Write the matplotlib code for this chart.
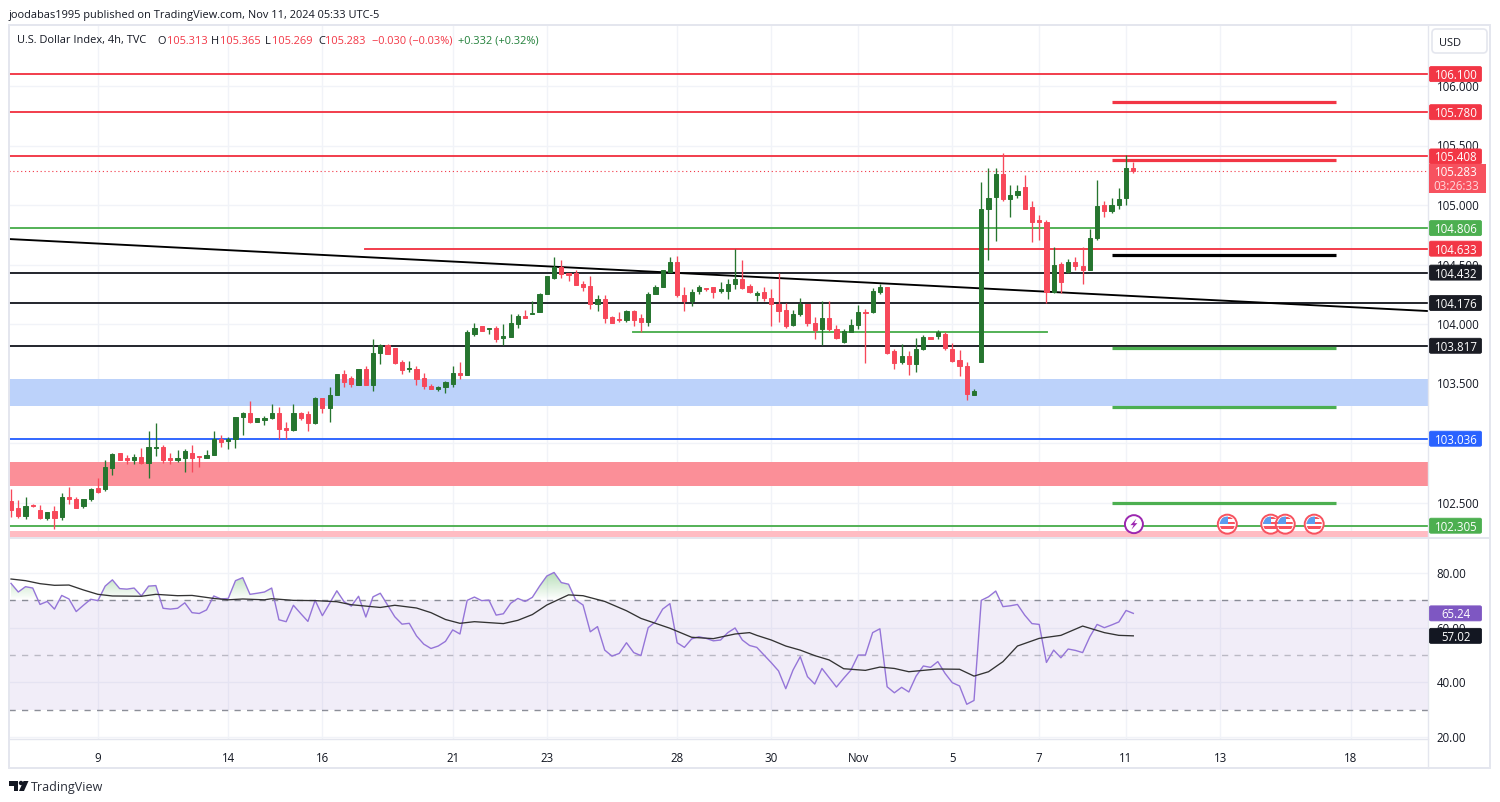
import numpy as np
import matplotlib
matplotlib.use("Agg")
import matplotlib.pyplot as plt
from matplotlib.patches import Rectangle, Circle, FancyBboxPatch, Polygon, Wedge
from matplotlib.path import Path
from matplotlib.colors import to_rgb

plt.rcParams['font.family'] = ['Open Sans', 'DejaVu Sans']

opens = [102.51,102.45,102.39,102.48,102.44,102.37,102.43,102.38,102.55,102.53,
102.47,102.53,102.62,102.61,102.79,102.92,102.87,102.86,102.88,102.83,
102.96,102.97,102.87,102.86,102.87,102.92,102.89,102.87,102.90,103.03,
103.02,103.03,103.22,103.25,103.18,103.19,103.21,103.25,103.13,103.11,
103.25,103.24,103.17,103.38,103.29,103.40,103.58,103.55,103.49,103.62,
103.49,103.76,103.82,103.80,103.68,103.62,103.62,103.55,103.48,103.45,
103.47,103.50,103.59,103.57,103.92,103.98,103.96,103.97,103.88,103.89,
104.00,104.07,104.08,104.10,104.25,104.39,104.48,104.43,104.43,104.34,
104.32,104.17,104.21,104.06,104.04,104.03,104.11,104.05,104.02,104.25,
104.31,104.44,104.52,104.24,104.19,104.28,104.30,104.31,104.28,104.28,
104.34,104.38,104.32,104.24,104.27,104.22,104.17,104.12,103.99,104.08,
104.17,104.01,103.96,104.05,103.96,103.85,103.93,103.99,104.10,104.10,
104.27,104.31,103.77,103.68,103.73,103.66,103.79,103.89,103.90,103.92,
103.79,103.70,103.65,103.40,103.68,104.97,105.07,105.26,105.05,105.08,
105.15,104.98,104.87,104.86,104.27,104.50,104.44,104.52,104.49,104.45,
104.72,105.00,104.95,105.00,105.06,105.313]
closes = [102.44,102.39,102.47,102.47,102.37,102.42,102.37,102.55,102.53,102.45,
102.53,102.61,102.59,102.80,102.91,102.86,102.86,102.88,102.83,102.97,
102.97,102.86,102.86,102.87,102.93,102.87,102.88,102.90,103.03,103.01,
103.03,103.22,103.25,103.18,103.21,103.21,103.25,103.12,103.11,103.25,
103.21,103.17,103.38,103.29,103.40,103.58,103.51,103.50,103.62,103.49,
103.76,103.82,103.75,103.67,103.61,103.63,103.54,103.48,103.45,103.47,
103.51,103.59,103.57,103.93,103.97,103.94,103.97,103.87,103.90,104.01,
104.07,104.05,104.09,104.25,104.40,104.48,104.42,104.41,104.33,104.31,
104.17,104.21,104.05,104.01,104.03,104.11,104.03,104.02,104.25,104.31,
104.45,104.52,104.24,104.19,104.27,104.31,104.29,104.27,104.29,104.34,
104.38,104.30,104.27,104.26,104.22,104.17,104.11,103.98,104.08,104.17,
104.01,103.95,104.05,103.96,103.88,103.94,103.99,104.10,104.09,104.28,
104.31,103.76,103.67,103.73,103.66,103.79,103.89,103.87,103.93,103.80,
103.69,103.65,103.41,103.44,104.97,105.06,105.26,105.05,105.08,105.12,
104.97,104.86,104.86,104.27,104.50,104.35,104.52,104.49,104.45,104.72,
104.99,104.95,105.00,105.05,105.31,105.283]
highs = [102.61,102.52,102.55,102.49,102.48,102.42,102.47,102.58,102.63,102.55,
102.53,102.62,102.71,102.86,102.92,102.92,102.90,102.91,102.96,103.10,
103.17,102.98,102.92,102.94,102.95,102.98,102.89,102.94,103.10,103.07,
103.05,103.22,103.26,103.35,103.21,103.23,103.33,103.30,103.18,103.33,
103.26,103.27,103.39,103.38,103.47,103.58,103.61,103.56,103.62,103.65,
103.87,103.83,103.83,103.80,103.70,103.69,103.65,103.59,103.50,103.48,
103.52,103.65,103.68,103.95,104.01,103.98,103.97,103.98,104.00,104.08,
104.08,104.12,104.19,104.26,104.40,104.56,104.54,104.43,104.45,104.36,
104.40,104.24,104.24,104.07,104.10,104.12,104.12,104.08,104.27,104.33,
104.45,104.56,104.57,104.31,104.29,104.33,104.30,104.31,104.35,104.38,
104.63,104.54,104.34,104.28,104.31,104.29,104.43,104.18,104.12,104.22,
104.17,104.06,104.19,104.19,103.99,103.96,104.04,104.16,104.13,104.30,
104.34,104.31,103.79,103.83,103.77,103.88,103.91,103.89,103.95,103.93,
103.84,103.78,103.68,103.45,105.19,105.31,105.31,105.44,105.17,105.17,
105.25,105.03,104.92,104.87,104.65,104.52,104.55,104.56,104.65,104.80,
105.21,105.03,105.06,105.14,105.42,105.365]
lows = [102.38,102.37,102.36,102.46,102.36,102.35,102.28,102.35,102.49,102.45,
102.45,102.51,102.58,102.60,102.73,102.86,102.82,102.82,102.82,102.71,
102.89,102.83,102.82,102.84,102.76,102.76,102.80,102.87,102.90,102.97,
102.95,102.96,103.07,103.17,103.18,103.15,103.20,103.03,103.03,103.10,
103.19,103.10,103.16,103.25,103.18,103.40,103.47,103.47,103.49,103.49,
103.44,103.66,103.75,103.66,103.58,103.60,103.49,103.45,103.45,103.44,
103.42,103.47,103.54,103.57,103.90,103.94,103.92,103.85,103.82,103.89,
103.97,104.05,104.08,104.10,104.25,104.38,104.39,104.36,104.33,104.28,
104.13,104.11,104.01,104.01,104.02,104.02,103.98,103.93,103.98,104.25,
104.31,104.44,104.23,104.11,104.15,104.25,104.28,104.22,104.26,104.21,
104.29,104.29,104.26,104.19,104.19,103.98,104.02,103.97,103.98,104.07,
103.98,103.87,103.82,103.94,103.87,103.84,103.93,103.96,103.67,104.09,
104.25,103.75,103.62,103.66,103.57,103.60,103.78,103.87,103.87,103.78,
103.68,103.56,103.36,103.40,103.68,104.54,104.70,105.03,104.90,105.06,
104.97,104.69,104.71,104.18,104.26,104.26,104.43,104.45,104.34,104.45,
104.71,104.90,104.93,104.97,105.00,105.269]
rsi = [76.2,73.05,75.0,74.5,68.5,69.6,66.8,71.8,70.5,65.9,68.2,70.4,69.9,75.2,77.5,74.3,74.1,74.5,71.6,75.2,
75.4,67.1,66.8,67.1,69.1,65.5,65.2,66.5,71.6,70.5,70.7,77.2,78.3,72.2,72.6,73.05,74.5,62.9,62.2,68.2,
65.2,62.3,70.0,64.4,68.9,73.5,69.5,67.9,71.5,63.9,71.3,72.6,68.3,64.0,61.3,61.6,57.0,54.0,52.4,53.3,
55.0,59.2,57.7,70.0,71.2,69.9,70.1,64.6,65.1,68.9,70.7,69.6,71.1,75.2,78.9,80.2,76.5,75.9,70.1,68.3,
58.5,60.4,51.8,49.6,50.6,54.5,50.9,49.8,60.0,62.2,66.8,68.8,54.5,52.8,55.9,56.7,56.1,55.2,55.5,58.2,
59.9,55.5,53.5,52.8,50.0,47.2,44.2,37.7,44.5,49.4,42.1,39.4,45.1,41.7,38.3,41.5,44.5,50.0,50.0,58.2,
59.6,38.4,36.2,38.2,36.5,42.3,46.0,45.5,47.6,43.3,39.9,38.7,32.0,33.4,70.0,71.3,73.4,67.7,68.0,68.5,
64.6,61.5,61.2,47.3,51.8,49.0,52.2,51.7,50.9,56.7,61.2,60.0,61.0,62.1,66.3,65.24]
ma_idx = [1,3,5,7,9,11,13,15,19,21,24,26,29,31,33,36,37,40,43,46,48,52,54,57,59,61,63,65,69,71,73,75,78,80,83,86,88,91,92,95,98,101,103,104,106,108,110,112,114,116,119,121,123,125,129,132,134,136,138,140,143,146,149,152,154,156]
ma_vals = [77.8,77.2,76.1,75.5,75.6,73.8,72.2,71.6,71.5,72.2,71.7,71.8,70.7,70.2,70.5,70.2,70.6,70.0,69.9,69.5,68.4,67.4,68.2,67.2,65.5,63.0,61.6,62.2,61.5,62.7,64.8,68.3,72.0,71.7,69.6,66.2,63.4,60.7,59.8,56.5,56.0,57.7,58.2,57.2,55.5,53.3,51.8,49.8,48.2,45.0,44.4,45.6,45.1,43.9,44.9,44.8,42.3,43.9,47.6,53.3,56.1,57.2,60.6,58.2,57.2,57.02]

date_idx = [13,31,44,62,75,93,106,118,131,143,155,168,186]
date_labels = ['9','14','16','21','23','28','30','Nov','5','7','11','13','18']
price_ticks = [106.0,105.5,105.0,104.5,104.0,103.5,103.0,102.5]
price_tick_labels = ['106.000','105.500','105.000','104.500','104.000','103.500','','102.500']
rsi_ticks = [80,60,40,20]

full_lines = [(106.100,'red'),(105.780,'red'),(105.408,'red'),(104.806,'green'),(104.432,'black'),
              (104.176,'black'),(103.817,'black'),(103.036,'blue'),(102.305,'green')]
mid_red_level = 104.633
mid_red_start = 49.9
green_seg = (103.933, 86.9, 144.1)
trend_pts = ([0.72, 196.7], [104.714, 104.109])
short_start, short_end = 153.1, 184.0
short_lines = [(105.866,'red'),(105.378,'red'),(104.58,'blackk'),(103.795,'green'),(103.30,'green'),(102.50,'green')]
bands = [(103.311,103.538,'#bcd2fa'),(102.64,102.84,'#fb8f98'),(102.21,102.26,'#ffbcc3')]
last_price = 105.283
flag_idx = [169,175,177,181]
bolt_idx = 156.1
event_price = 102.318

COL = dict(red='#f23645', green='#4caf50', black='#1a1c24', blackk='#000000', blue='#2962ff')
UP, DN = '#26752f', '#f7485a'
GRID = '#f1f3f8'
TXT = '#131722'
W, H = 1500, 802
FS = 8.3
HS = 7.9

fig = plt.figure(figsize=(15, 8.02), dpi=100, facecolor='white')
def rect(x0, y0, x1, y1):
    return [x0/W, 1-y1/H, (x1-x0)/W, (y1-y0)/H]
def pr(y):
    return 105-(y-205)/119
def rv(y):
    return 80-(y-573)/2.735

XL = (0.72, 196.7)
ax = fig.add_axes(rect(9, 26, 1428, 537))
ax.set_xlim(*XL); ax.set_ylim(pr(537), pr(26))
axr = fig.add_axes(rect(9, 538, 1428, 739))
axr.set_xlim(*XL); axr.set_ylim(rv(739), rv(538))

for a in (ax, axr):
    for s in a.spines.values():
        s.set_visible(False)
    a.yaxis.tick_right()
    a.set_axisbelow(True)
    a.grid(True, color=GRID, lw=1.0)
ax.set_yticks(price_ticks, price_tick_labels)
ax.set_xticks(date_idx, [''] * len(date_idx))
ax.tick_params(length=0, labelsize=FS, labelcolor=TXT, pad=6.2)
axr.set_yticks(rsi_ticks, [f'{t:.2f}' for t in rsi_ticks])
axr.set_xticks(date_idx, date_labels)
axr.tick_params(axis='y', length=0, labelsize=FS, labelcolor=TXT, pad=6.2)
axr.tick_params(axis='x', length=0, labelsize=FS, labelcolor=TXT, pad=9)

# bands and levels
for lo, hi, c in bands:
    ax.axhspan(lo, hi, color=c, lw=0, zorder=1)
for lv, c in full_lines:
    ax.axhline(lv, color=COL[c], lw=1.35, zorder=2)
ax.plot([mid_red_start, XL[1]], [mid_red_level]*2, color=COL['red'], lw=1.35, zorder=2)
ax.plot(green_seg[1:], [green_seg[0]]*2, color=COL['green'], lw=1.35, zorder=2)
ax.plot(*trend_pts, color='black', lw=1.35, zorder=2)
ax.axhline(last_price, color=COL['red'], lw=0.8, ls=(0, (1, 2.5)), zorder=2)
for lv, c in short_lines:
    ax.plot([short_start, short_end], [lv, lv], color=COL[c], lw=2.3, zorder=2, solid_capstyle='butt')

# candles
idx = np.arange(1, len(opens)+1)
o, h, l, c = map(np.array, (opens, highs, lows, closes))
cols = [UP if cc >= oo else DN for oo, cc in zip(o, c)]
ax.vlines(idx, l, h, colors=cols, lw=0.95, zorder=3)
ax.bar(idx, np.abs(c-o), bottom=np.minimum(o, c), width=0.58, color=cols, edgecolor=cols, lw=0.7, zorder=4)

# RSI
axr.axhspan(30, 70, color='#7e57c2', alpha=0.1, lw=0, zorder=1)
for lv, al in ((70, 0.85), (50, 0.45), (30, 0.85)):
    axr.axhline(lv, color='#787b86', lw=1.0, alpha=al, ls=(0, (4.5, 4.5)), zorder=2)
r = np.array(rsi)
poly = axr.fill_between(idx, 70, r, where=r > 70, interpolate=True, color='none', lw=0)
paths = poly.get_paths()
grad = np.zeros((64, 2, 4))
grad[..., :3] = to_rgb('#4caf50')
grad[..., 3] = np.linspace(0.42, 0.0, 64)[:, None]
im = axr.imshow(grad, extent=[XL[0], XL[1], 70, 80.5], origin='upper', aspect='auto', zorder=1.5, interpolation='bilinear')
im.set_clip_path(Path.make_compound_path(*paths), axr.transData)
axr.set_xlim(*XL); axr.set_ylim(rv(739), rv(538))
axr.plot(idx, r, color='#9575d8', lw=1.0, zorder=3)
axr.plot(ma_idx, ma_vals, color='#333333', lw=0.95, zorder=4)

# overlay in pixels
ov = fig.add_axes([0, 0, 1, 1], facecolor='none')
ov.set_xlim(0, W); ov.set_ylim(H, 0); ov.axis('off')
fc = '#e4e6ee'
ov.add_patch(Rectangle((9, 25), 1481, 743, fill=False, ec=fc, lw=1.4))
ov.plot([1428, 1428], [25, 768], color=fc, lw=1.0)
ov.plot([9, 1490], [537.5, 537.5], color=fc, lw=1.4)
ov.plot([9, 1428], [738.5, 738.5], color=fc, lw=1.0)

def ypx(p): return 205+(105-p)*119
def yrs(v): return 573+(80-v)*2.735
def xpx(n): return 11+7.24*(n-1)
def tag(y, txt, col):
    ov.add_patch(FancyBboxPatch((1429.5, y-7.5), 52, 15, boxstyle='round,pad=0,rounding_size=1.5', fc=col, ec=col, lw=0.6, zorder=5))
    ov.text(1456, y, txt, color='white', fontsize=FS, ha='center', va='center_baseline', zorder=6)
for lv, kind in full_lines:
    tag(ypx(lv), f'{lv:.3f}', COL[kind])
tag(ypx(mid_red_level), f'{mid_red_level:.3f}', COL['red'])
ov.add_patch(Rectangle((1429, 163.5), 57, 29, fc='#f7525f', ec='none', zorder=5))
ov.text(1456, 171.5, f'{last_price:.3f}', color='white', fontsize=FS, ha='center', va='center_baseline', zorder=6)
ov.text(1456, 185, '03:26:33', color='#ffd9dd', fontsize=FS, ha='center', va='center_baseline', zorder=6)
tag(yrs(rsi[-1]), f'{rsi[-1]:.2f}', '#7e57c2')
tag(yrs(ma_vals[-1]), f'{ma_vals[-1]:.2f}', '#131722')

ov.add_patch(FancyBboxPatch((1432, 29), 55, 24, boxstyle='round,pad=0,rounding_size=4', fc='white', ec=fc, lw=1.2, zorder=5))
ov.text(1450.5, 41.5, 'USD', color=TXT, fontsize=HS, ha='center', va='center_baseline', zorder=6)

# header
ov.text(9, 14, 'joodabas1995 published on TradingView.com, Nov 11, 2024 05:33 UTC-5', color=TXT, fontsize=HS, va='center_baseline')
hdr_red = '#f23645'; hdr_grn = '#22803a'
for x, t, cc in [(17, 'U.S. Dollar Index, 4h, TVC', TXT), (157, 'O', TXT), (166.5, '105.313', hdr_red), (211, 'H', TXT), (220, '105.365', hdr_red),
              (265, 'L', TXT), (272, '105.269', hdr_red), (318, 'C', TXT), (325.5, '105.283', hdr_red),
              (372, '\u22120.030 (\u22120.03%)', hdr_red), (458.5, '+0.332 (+0.32%)', hdr_grn)]:
    ov.text(x, 39.5, t, color=cc, fontsize=HS, va='center_baseline')

# footer logo
ov.add_patch(Polygon([(9, 781), (18, 781), (18, 791), (13.5, 791), (13.5, 785.5), (9, 785.5)], fc=TXT, ec='none'))
ov.add_patch(Circle((21, 783), 2.2, fc=TXT, ec='none'))
ov.add_patch(Polygon([(23.5, 781), (28.5, 781), (24, 791), (19, 791)], fc=TXT, ec='none'))
ov.text(31, 785.5, 'TradingView', color='#2a2e39', fontsize=9, va='center_baseline')

# events
ye = ypx(event_price)
xb = xpx(bolt_idx)
ov.add_patch(Circle((xb, ye), 9, fc='white', ec='#9c27b0', lw=1.4, zorder=5))
ov.add_patch(Polygon([(xb+2.5, ye-5.5), (xb-3.5, ye+1), (xb-0.3, ye+1), (xb-2.5, ye+5.5), (xb+3.5, ye-1), (xb+0.3, ye-1)], fc='#9c27b0', ec='none', zorder=6))
for n in flag_idx:
    x = xpx(n)
    ov.add_patch(Circle((x, ye), 9.5, fc='white', ec='#f7525f', lw=1.4, zorder=5))
    ov.add_patch(Wedge((x, ye), 7.5, 0, 180, fc='#ffffff', ec='none', zorder=5))
    cp = Circle((x, ye), 7.6, transform=ov.transData)
    for k, (y0, hh, cc) in enumerate([(ye-7.6, 2.5, '#f7525f'), (ye-2.6, 2.5, '#f7525f'), (ye+2.2, 2.5, '#f7525f'), (ye+5, 2.6, '#ffffff')]):
        rr = Rectangle((x-8, y0), 16, hh, fc=cc, ec='none', zorder=6); ov.add_patch(rr); rr.set_clip_path(cp)
    rr = Rectangle((x-8, ye-8), 8.5, 8, fc='#5b9cf0', ec='none', zorder=7); ov.add_patch(rr); rr.set_clip_path(cp)

fig.savefig('out.png', dpi=100)
